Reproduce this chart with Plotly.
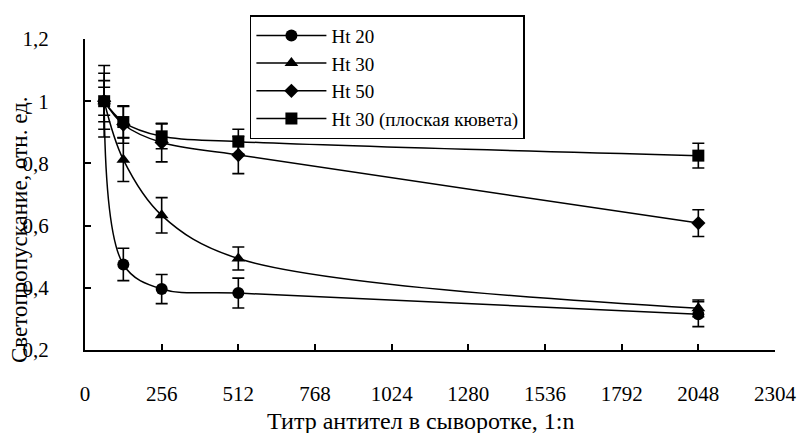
import plotly.graph_objects as go

titers = [64, 128, 256, 512, 2048]
names = ["Ht 20", "Ht 30", "Ht 50", "Ht 30 (плоская кювета)"]
ht20 = [1.0, 0.475, 0.396, 0.383, 0.315]
ht30 = [1.0, 0.812, 0.633, 0.494, 0.334]
ht50 = [1.0, 0.925, 0.867, 0.827, 0.608]
ht30_flat = [1.0, 0.933, 0.887, 0.870, 0.825]
err20 = [0.115, 0.052, 0.047, 0.048, 0.04]
err30 = [0.09, 0.07, 0.057, 0.037, 0.027]
err50 = [0.066, 0.06, 0.062, 0.06, 0.043]
err_flat = [0.045, 0.05, 0.04, 0.04, 0.04]

x_ticks = [0, 256, 512, 768, 1024, 1280, 1536, 1792, 2048, 2304]
y_ticks = [0.2, 0.4, 0.6, 0.8, 1.0, 1.2]
y_ticktext = ["0,2", "0,4", "0,6", "0,8", "1", "1,2"]

x_title = "Титр антител в сыворотке, 1:n"
y_title = "Светопропускание, отн. ед."

series = [
    (names[0], ht20, err20, "circle", 12),
    (names[1], ht30, err30, "triangle-up", 12),
    (names[2], ht50, err50, "diamond", 11),
    (names[3], ht30_flat, err_flat, "square", 12),
]

FONT = "Liberation Serif, Times New Roman, serif"
fig = go.Figure()
for name, ys, errs, sym, sz in series:
    fig.add_trace(go.Scatter(
        x=titers, y=ys, name=name, mode="lines+markers",
        line=dict(color="black", width=1.5, shape="spline", smoothing=1.0),
        marker=dict(symbol=sym, size=sz, color="black"),
        error_y=dict(type="data", array=errs, visible=True, color="black",
                     thickness=1.6, width=6),
    ))

fig.update_layout(
    width=808, height=433,
    margin=dict(l=85, r=33, t=39, b=83),
    paper_bgcolor="white", plot_bgcolor="white",
    font=dict(family=FONT, size=21, color="black"),
    showlegend=True,
    legend=dict(
        x=0.239, y=1.077, xanchor="left", yanchor="top",
        bordercolor="black", borderwidth=1.5, bgcolor="white",
        font=dict(family=FONT, size=19, color="black"),
        tracegroupgap=0, itemwidth=70,
    ),
    xaxis=dict(
        range=[0, 2304], tickvals=x_ticks, ticks="inside", ticklen=6,
        tickwidth=1.5, tickcolor="black", showline=True, linecolor="black",
        linewidth=2, showgrid=False, zeroline=False,
        tickfont=dict(family=FONT, size=21), ticklabelstandoff=24,
    ),
    yaxis=dict(
        range=[0.2, 1.2], tickvals=y_ticks, ticktext=y_ticktext,
        ticks="inside", ticklen=6, tickwidth=1.5, tickcolor="black",
        showline=True, linecolor="black", linewidth=2, showgrid=False,
        zeroline=False,
        tickfont=dict(family=FONT, size=21), ticklabelstandoff=30,
    ),
    annotations=[
        dict(text=x_title, xref="paper", yref="paper", x=0.486, y=-0.228,
             xanchor="center", yanchor="middle", showarrow=False,
             font=dict(family=FONT, size=24)),
        dict(text=y_title, xref="paper", yref="paper", x=-0.094, y=0.386,
             xanchor="center", yanchor="middle", showarrow=False,
             textangle=-90, font=dict(family=FONT, size=23)),
    ],
)

fig.write_html("out.html")
